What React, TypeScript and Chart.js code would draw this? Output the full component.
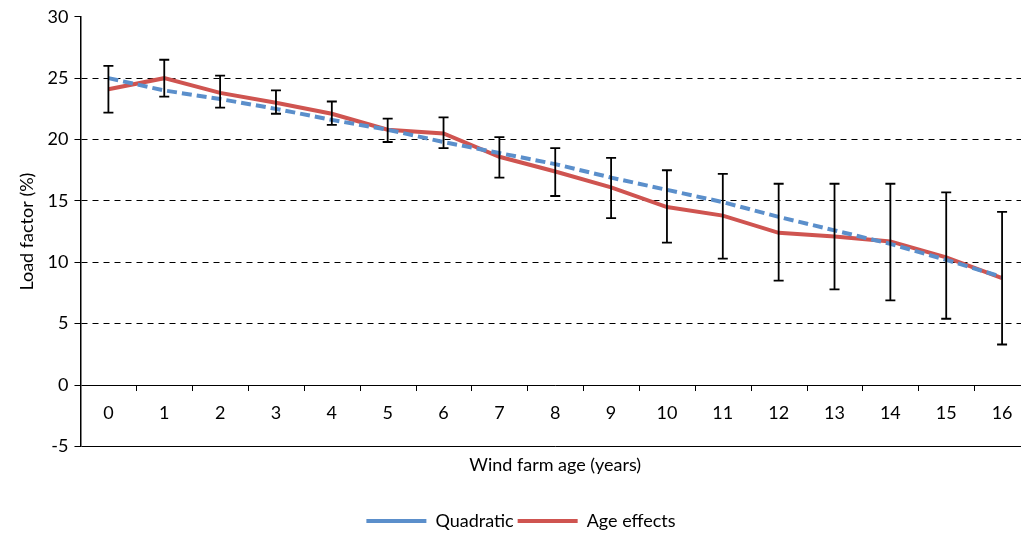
import React, { useEffect, useRef } from "react";
import { Chart, registerables } from "chart.js";
Chart.register(...registerables);

const ages = ["0","1","2","3","4","5","6","7","8","9","10","11","12","13","14","15","16"];
const quadratic = [25.0,24.0,23.3,22.5,21.6,20.8,19.8,18.9,18.0,16.9,15.9,14.9,13.7,12.6,11.5,10.2,8.8];
const ageEffects = [24.1,25.0,23.8,23.0,22.1,20.8,20.5,18.6,17.4,16.1,14.5,13.8,12.4,12.1,11.7,10.4,8.7];
const errUpper = [26.0,26.5,25.2,24.0,23.1,21.7,21.8,20.2,19.3,18.5,17.5,17.2,16.4,16.4,16.4,15.7,14.1];
const errLower = [22.2,23.5,22.6,22.1,21.2,19.8,19.3,16.9,15.4,13.6,11.6,10.3,8.5,7.8,6.9,5.4,3.3];
const labelValue = -2.3;

const FONT = "Lato, 'DejaVu Sans', sans-serif";

const overlay = {
  id: "overlay",
  afterDatasetsDraw(chart: any) {
    const { ctx, scales } = chart;
    const x = scales.x, y = scales.y;
    ctx.save();
    ctx.strokeStyle = "#000";
    ctx.lineWidth = 1.8;
    ages.forEach((_, i) => {
      const px = x.getPixelForValue(i);
      const yt = y.getPixelForValue(errUpper[i]);
      const yb = y.getPixelForValue(errLower[i]);
      ctx.beginPath();
      ctx.moveTo(px, yt); ctx.lineTo(px, yb);
      ctx.moveTo(px - 5, yt); ctx.lineTo(px + 5, yt);
      ctx.moveTo(px - 5, yb); ctx.lineTo(px + 5, yb);
      ctx.stroke();
    });
    ctx.restore();
  },
  beforeDatasetsDraw(chart: any) {
    const { ctx, scales } = chart;
    const x = scales.x, y = scales.y;
    const y0 = y.getPixelForValue(0);
    ctx.save();
    ctx.strokeStyle = "#000";
    ctx.lineWidth = 1;
    const step = x.getPixelForValue(1) - x.getPixelForValue(0);
    for (let i = 0; i < ages.length; i++) {
      const bx = Math.round(x.getPixelForValue(i) + step / 2) + 0.5;
      ctx.beginPath(); ctx.moveTo(bx, y0); ctx.lineTo(bx, y0 + 6); ctx.stroke();
    }
    ctx.fillStyle = "#000";
    ctx.font = "18px " + FONT;
    ctx.textAlign = "center";
    ctx.textBaseline = "middle";
    ages.forEach((a, i) => ctx.fillText(a, x.getPixelForValue(i), y.getPixelForValue(labelValue)));
    ctx.restore();
  },
};

export default function App() {
  const ref = useRef<HTMLCanvasElement>(null);
  useEffect(() => {
    const chart = new Chart(ref.current!, {
      type: "line",
      data: {
        labels: ages,
        datasets: [
          { label: "Quadratic", data: quadratic, borderColor: "#5b8fcb", backgroundColor: "#5b8fcb", borderWidth: 4, borderDash: [10, 5], pointRadius: 0, tension: 0 },
          { label: "Age effects", data: ageEffects, borderColor: "#cf5450", backgroundColor: "#cf5450", borderWidth: 4, pointRadius: 0, tension: 0 },
        ],
      },
      options: {
        animation: false,
        responsive: false,
        layout: { padding: { top: 10, right: 0, bottom: 1, left: 12 } },
        plugins: {
          tooltip: { enabled: false },
          legend: {
            position: "bottom",
            labels: { font: { family: FONT, size: 18 }, color: "#000", boxWidth: 60, boxHeight: 0, padding: 4 },
          },
        },
        scales: {
          x: {
            offset: true,
            grid: { display: false, drawTicks: false, offset: true },
            border: { display: false },
            ticks: { display: false },
            title: { display: true, text: "Wind farm age (years)", font: { family: FONT, size: 18 }, color: "#000", padding: { top: 8, bottom: 32 } },
          },
          y: {
            min: -5, max: 30,
            ticks: { stepSize: 5, font: { family: FONT, size: 18 }, color: "#000", padding: 6 },
            border: { color: "#000", width: 1.5, dash: (c: any) => (c.tick && c.tick.value > 0 ? [6, 5] : []) },
            grid: {
              color: (c: any) => (c.tick && c.tick.value === 30 ? "rgba(0,0,0,0)" : "#000"),
              tickColor: "#000",
              tickLength: 6,
              lineWidth: 1,
            },
            title: { display: true, text: "Load factor (%)", font: { family: FONT, size: 18 }, color: "#000", padding: { bottom: 4 } },
          },
        },
      },
      plugins: [overlay],
    } as any);
    return () => chart.destroy();
  }, []);
  return (
    <div style={{ position: "absolute", left: 0, top: 0, width: 1021, height: 541, overflow: "hidden", background: "#fff" }}>
      <canvas ref={ref} width={1030} height={541} />
    </div>
  );
}
